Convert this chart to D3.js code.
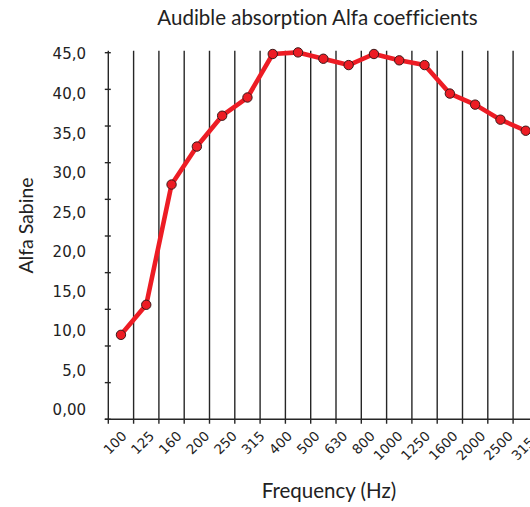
<!DOCTYPE html>
<html>
<head>
<meta charset="utf-8">
<script src="https://cdn.jsdelivr.net/npm/d3@7"></script>
<style>
  html, body { margin: 0; padding: 0; background: #fff; }
  svg { display: block; }
  text { font-variant-ligatures: none; }
</style>
</head>
<body>
<svg id="chart" width="530" height="507"></svg>
<script>
// ---- data ----
const categories = ["100","125","160","200","250","315","400","500","630","800","1000","1250","1600","2000","2500","3150","4000"];
const alfaValues = [9.5, 13.3, 28.5, 33.3, 37.2, 39.5, 45.0, 45.2, 44.4, 43.6, 45.0, 44.2, 43.6, 40.0, 38.6, 36.7, 35.3];
const yTickLabels = ["45,0","40,0","35,0","30,0","25,0","20,0","15,0","10,0","5,0","0,00"];
const yTickValues = [45, 40, 35, 30, 25, 20, 15, 10, 5, 0];
const chartTitle = "Audible absorption Alfa coefficients";
const xTitle = "Frequency (Hz)";
const yTitle = "Alfa Sabine";

// ---- layout ----
const svg = d3.select("#chart");
const plotLeft = 108.3, bandW = 25.3, plotTop = 50.7, axisY = 419.3;

const x = d3.scaleBand().domain(categories)
  .range([plotLeft, plotLeft + bandW * categories.length]).padding(0);
const y = d3.scaleLinear().domain([0, 45]).range([410, 54]);
// tick marks (11 evenly spaced marks on the axis)
const tickIdx = d3.range(11);
const yTick = d3.scaleLinear().domain([0, 10]).range([52.7, axisY]);
// x tick label anchor positions (labels are spaced slightly wider than the bands)
const xLab = d3.scalePoint().domain(categories).range([127.5, 127.5 + 27.6 * (categories.length - 1)]);

const gridColor = "#262626";

// vertical gridlines at band boundaries
svg.append("g").selectAll("line")
  .data(categories.slice(1))
  .join("line")
  .attr("x1", d => x(d)).attr("x2", d => x(d))
  .attr("y1", plotTop).attr("y2", axisY + 4.5)
  .attr("stroke", gridColor).attr("stroke-width", 1.4);

// y axis
svg.append("line")
  .attr("x1", plotLeft).attr("x2", plotLeft)
  .attr("y1", plotTop).attr("y2", axisY + 4.5)
  .attr("stroke", gridColor).attr("stroke-width", 1.4);
svg.append("g").selectAll("line")
  .data(tickIdx)
  .join("line")
  .attr("x1", plotLeft - 3.5).attr("x2", plotLeft + 2.5)
  .attr("y1", d => yTick(d)).attr("y2", d => yTick(d))
  .attr("stroke", gridColor).attr("stroke-width", 1.4);

// x axis
svg.append("line")
  .attr("x1", plotLeft - 3.5).attr("x2", 530)
  .attr("y1", axisY).attr("y2", axisY)
  .attr("stroke", gridColor).attr("stroke-width", 1.4);

// y tick labels
svg.append("g").selectAll("text")
  .data(yTickValues)
  .join("text")
  .attr("x", 86).attr("y", d => y(d))
  .attr("dy", "0.36em")
  .attr("text-anchor", "end")
  .attr("font-family", "DejaVu Sans")
  .attr("font-size", 15)
  .attr("fill", "#222")
  .text((d, i) => yTickLabels[i]);

// x tick labels (the last one falls outside the picture, as in the original)
svg.append("g").selectAll("text")
  .data(categories.slice(0, 16))
  .join("text")
  .attr("transform", d => `translate(${xLab(d)},437) rotate(-45)`)
  .attr("text-anchor", "end")
  .attr("font-family", "DejaVu Sans")
  .attr("font-size", 13.5)
  .attr("fill", "#1e1e1e")
  .text(d => d);

// line
const line = d3.line()
  .x((d, i) => x(categories[i]) + x.bandwidth() / 2)
  .y(d => y(d));
svg.append("path")
  .datum(alfaValues)
  .attr("d", line)
  .attr("fill", "none")
  .attr("stroke", "#ed1c24")
  .attr("stroke-width", 4.6)
  .attr("stroke-linejoin", "round");

svg.append("g").selectAll("circle")
  .data(alfaValues)
  .join("circle")
  .attr("cx", (d, i) => x(categories[i]) + x.bandwidth() / 2)
  .attr("cy", d => y(d))
  .attr("r", 4.7)
  .attr("fill", "#ed1c24")
  .attr("stroke", "#3a1a1a")
  .attr("stroke-width", 1);

// titles
svg.append("text")
  .attr("x", 317.5).attr("y", 25)
  .attr("text-anchor", "middle")
  .attr("font-family", "Lato")
  .attr("font-size", 20.5)
  .attr("fill", "#222")
  .text(chartTitle);

svg.append("text")
  .attr("x", 329).attr("y", 498)
  .attr("text-anchor", "middle")
  .attr("font-family", "Lato")
  .attr("font-size", 20.5)
  .attr("fill", "#222")
  .text(xTitle);

svg.append("text")
  .attr("transform", "translate(33,225.5) rotate(-90)")
  .attr("text-anchor", "middle")
  .attr("font-family", "Lato")
  .attr("font-size", 19.5)
  .attr("fill", "#222")
  .text(yTitle);
</script>
</body>
</html>
